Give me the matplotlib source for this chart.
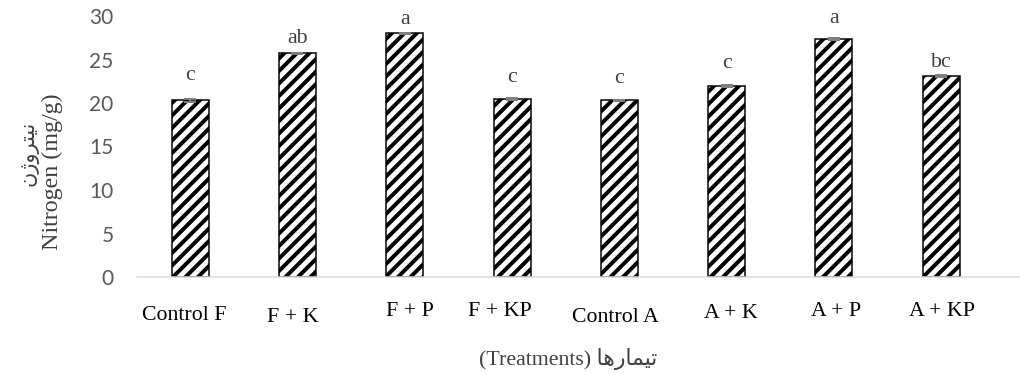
import matplotlib
matplotlib.use("Agg")
import matplotlib.pyplot as plt

# data
treatments = ["Control F", "F + K", "F + P", "F + KP", "Control A", "A + K", "A + P", "A + KP"]
nitrogen = [20.3, 25.7, 28.0, 20.5, 20.3, 21.95, 27.35, 23.1]
errors = [0.2, 0.1, 0.1, 0.1, 0.1, 0.1, 0.1, 0.15]
letters = ["c", "ab", "a", "c", "c", "c", "a", "bc"]

# label placement tweaks (pixels), the original labels are a bit staggered
label_dx = [-6, -4.5, 5, -12, -4, 4, 2, 1]
label_dy = [38, 41, 34, 34, 41, 36.5, 34, 34]
letter_gap = [20, 10, 9, 17, 17, 18, 16, 9]

# persian text in visual order (presentation forms, matplotlib does no shaping)
fa_nitrogen = "\uFEE5\uFB8A\uFEED\uFEAE\uFE98\uFEF4\uFEE7"
fa_treatments = "\uFE8E\uFEEB\uFEAD\uFE8E\uFEE4\uFEF4\uFE97"

DPI = 150
px = 72 / DPI  # points per pixel
plt.rcParams['hatch.linewidth'] = 1.9
plt.rcParams['hatch.color'] = 'black'

fig = plt.figure(figsize=(1020 / DPI, 374 / DPI), dpi=DPI)
ax = fig.add_axes([136.5 / 1020, 97 / 374, 883.5 / 1020, 261 / 374])

x = list(range(len(treatments)))
ax.bar(x, nitrogen, width=0.345, color='white', edgecolor='black',
       linewidth=1.5 * px, hatch='////', zorder=2)
ax.errorbar(x, nitrogen, yerr=errors, fmt='none', ecolor='#7f7f7f',
            elinewidth=2 * px, capsize=2.9, capthick=2 * px, zorder=3)

ax.set_xlim(-0.5, -0.5 + 883.5 / 107.3)
ax.set_ylim(0, 30)
ax.set_yticks([0, 5, 10, 15, 20, 25, 30])
ax.set_xticks([])
for s in ['top', 'right', 'left']:
    ax.spines[s].set_visible(False)
ax.spines['bottom'].set_color('#d9d9d9')
ax.spines['bottom'].set_linewidth(1.5 * px)
ax.tick_params(axis='y', length=0, pad=11, labelsize=10, labelcolor='#595959')
for lab in ax.get_yticklabels():
    lab.set_family('Lato')

serif = ['Liberation Serif', 'DejaVu Sans']

# category labels
for i, name in enumerate(treatments):
    ax.annotate(name, xy=(i, 0), xytext=(label_dx[i] * px, -label_dy[i] * px),
                textcoords='offset points', ha='center', va='center',
                family=serif, fontsize=10.5, color='black')

# significance letters
for i, let in enumerate(letters):
    ax.annotate(let, xy=(i, nitrogen[i]), xytext=(0, letter_gap[i] * px),
                textcoords='offset points', ha='center', va='baseline',
                family=serif, fontsize=10.5, color='#404040')

# axis titles
fig.text(52 / 1020, 1 - 172 / 374, "Nitrogen (mg/g)", rotation=90,
         ha='center', va='center', family=serif, fontsize=11.5, color='#404040')
fig.text(29 / 1020, 1 - 153 / 374, fa_nitrogen, rotation=90,
         ha='center', va='center', family=['DejaVu Sans'], fontsize=10, color='#404040')
fig.text(568 / 1020, 1 - 359 / 374, "(Treatments) " + fa_treatments,
         ha='center', va='center', family=serif, fontsize=10.5, color='#404040')

fig.savefig("out.png", dpi=DPI)
